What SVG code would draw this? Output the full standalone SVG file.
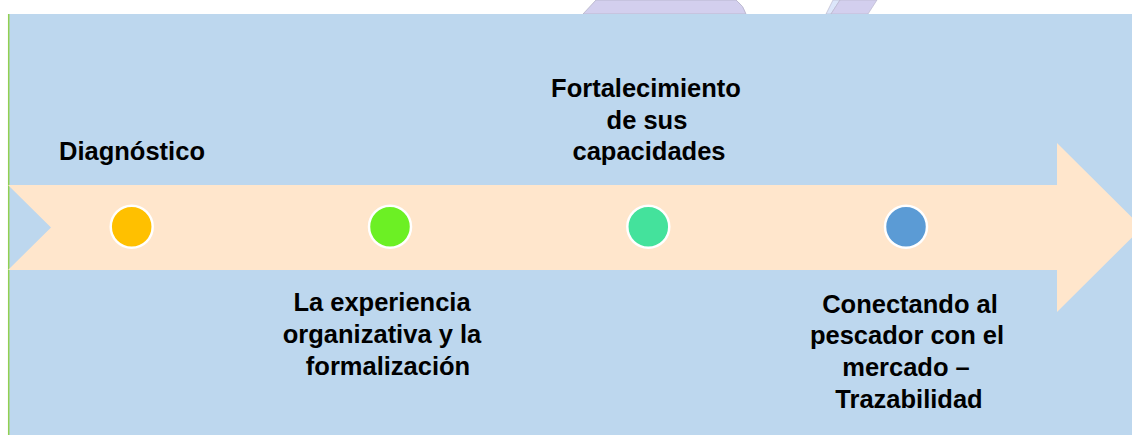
<svg xmlns="http://www.w3.org/2000/svg" width="1132" height="435" viewBox="0 0 1132 435">
<style>
.lbl{font-family:"Liberation Sans",Arial,sans-serif;font-weight:bold;font-size:25.5px;fill:#000;text-anchor:middle}
.dot{stroke:#fff;stroke-width:2.5}
</style>
<rect width="1132" height="435" fill="#fff"/>
<g id="watermark">
<path d="M583,14 L596,0 L736,0 Q744,6 746,14 Z" fill="#D3CFEE" stroke="#B5B2C8" stroke-width="0.8"/>
<path d="M826,14 L833,0 L840,0 L831,14 Z" fill="#DCE6FA" stroke="#B5B2C8" stroke-width="0.6"/>
<path d="M831,14 L840,0 L877,0 L868,14 Z" fill="#D3CFEE" stroke="#B5B2C8" stroke-width="0.6"/>
</g>
<rect id="background" x="8" y="14" width="1124" height="421" fill="#BDD7EE"/>
<line x1="8.7" y1="14" x2="8.7" y2="435" stroke="#92D050" stroke-width="1.5"/>
<g id="arrow">
<polygon points="8,185 1057,185 1057,143 1142,227.5 1057,312 1057,270 8,270 51,227.5" fill="#FFE6CC"/>
</g>
<g id="node-diagnostico">
<circle class="dot" cx="131.7" cy="226.7" r="21" fill="#FFC000"/>
<text class="lbl" x="132" y="160">Diagnóstico</text>
</g>
<g id="node-experiencia">
<circle class="dot" cx="390" cy="226.7" r="21" fill="#6CF024"/>
<text class="lbl" x="382" y="311">La experiencia</text>
<text class="lbl" x="382" y="343">organizativa y la</text>
<text class="lbl" x="388" y="375">formalización</text>
</g>
<g id="node-fortalecimiento">
<circle class="dot" cx="648.3" cy="226.7" r="21" fill="#44E29C"/>
<text class="lbl" x="646" y="97">Fortalecimiento</text>
<text class="lbl" x="647" y="128.5">de sus</text>
<text class="lbl" x="649" y="159.5">capacidades</text>
</g>
<g id="node-conectando">
<circle class="dot" cx="906" cy="226.7" r="21" fill="#5B9BD5"/>
<text class="lbl" x="910" y="313">Conectando al</text>
<text class="lbl" x="907" y="344">pescador con el</text>
<text class="lbl" x="906" y="375.5">mercado –</text>
<text class="lbl" x="909" y="408">Trazabilidad</text>
</g>
<g id="connectors"/>
</svg>
